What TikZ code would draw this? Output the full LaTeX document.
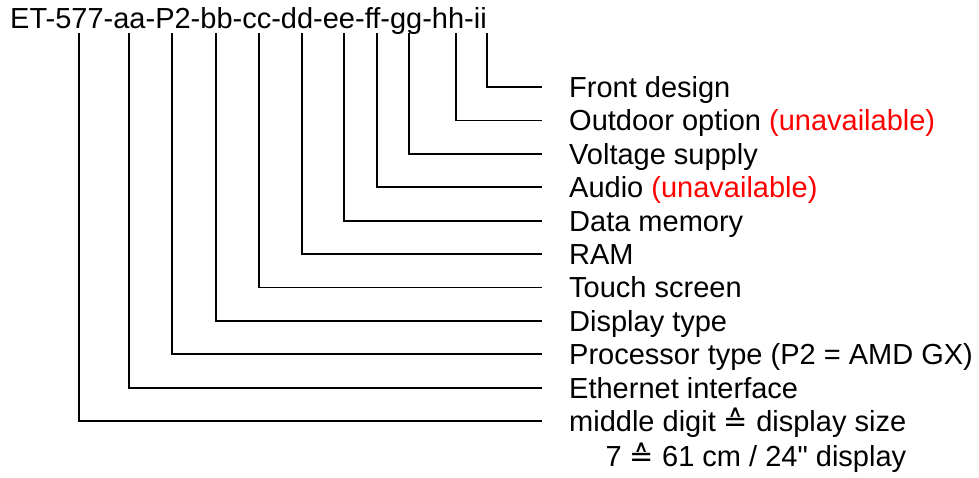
\documentclass[tikz,border=0pt]{standalone}
\usepackage{fontspec}
\setmainfont{Liberation Sans}
\newfontfamily\symfont{DejaVu Sans}
\newfontfamily\plainfont{Liberation Sans}
\usetikzlibrary{positioning}

\newcommand{\corr}{{\symfont\char"2259}}
\newcommand{\inch}{{\plainfont\char34}}

\begin{document}
\begin{tikzpicture}[
x=1pt, y=-1pt,
node distance=33.4pt,
every node/.style={font=\fontsize{29pt}{35pt}\selectfont, inner sep=0pt, text height=20.8pt, text depth=0pt},
code/.style={anchor=west},
field/.style={anchor=west},
stack/.style={field, below=of #1.west, anchor=west},
link/.style={line width=1.8pt, shorten >=27pt}
]
\useasboundingbox (0,0) rectangle (979,477);

% Part number
\node[code] (code) at (10,18) {ET-577-aa-P2-bb-cc-dd-ee-ff-gg-hh-ii};

% Start points below the characters
\coordinate (s577) at (79,33);
\coordinate (saa) at (129,33);
\coordinate (sp2) at (172,33);
\coordinate (sbb) at (216,33);
\coordinate (scc) at (259,33);
\coordinate (sdd) at (302,33);
\coordinate (see) at (344,33);
\coordinate (sff) at (377,33);
\coordinate (sgg) at (409,33);
\coordinate (shh) at (456,33);
\coordinate (sii) at (487,33);

% Fields
\node[field] (front) at (569,87) {Front design};
\node[stack=front] (outdoor) {Outdoor option \textcolor{red}{(unavailable)}};
\node[stack=outdoor] (voltage) {Voltage supply};
\node[stack=voltage] (audio) {Audio \textcolor{red}{(unavailable)}};
\node[stack=audio] (memory) {Data memory};
\node[stack=memory] (ram) {RAM};
\node[stack=ram] (touch) {Touch screen};
\node[stack=touch] (display) {Display type};
\node[stack=display] (cpu) {Processor type (P2 = AMD GX)};
\node[stack=cpu] (ethernet) {Ethernet interface};
\node[stack=ethernet] (size) {middle digit \corr{} display size};
\node[field, below=35pt of size.east, anchor=east] (sizeex) {7 \corr{} 61 cm / 24\inch{} display};

% Connections
\draw[link] (sii) |- (front.west);
\draw[link] (shh) |- (outdoor.west);
\draw[link] (sgg) |- (voltage.west);
\draw[link] (sff) |- (audio.west);
\draw[link] (see) |- (memory.west);
\draw[link] (sdd) |- (ram.west);
\draw[link] (scc) |- (touch.west);
\draw[link] (sbb) |- (display.west);
\draw[link] (sp2) |- (cpu.west);
\draw[link] (saa) |- (ethernet.west);
\draw[link] (s577) |- (size.west);

\end{tikzpicture}
\end{document}
